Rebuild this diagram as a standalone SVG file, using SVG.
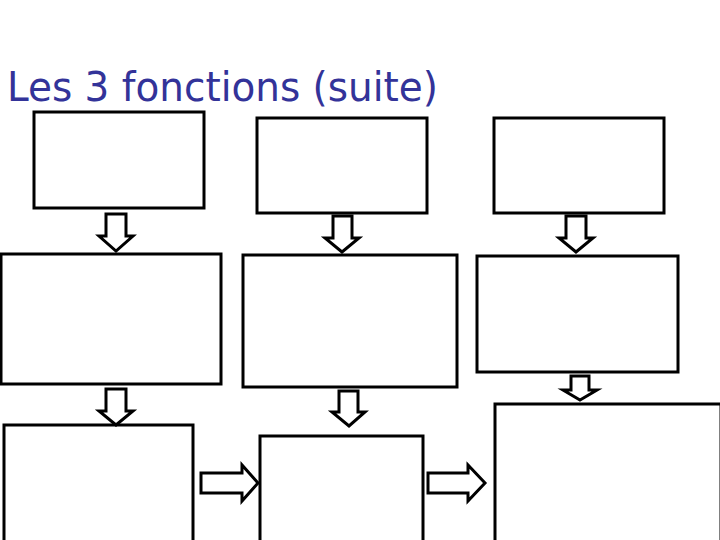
<svg xmlns="http://www.w3.org/2000/svg" width="720" height="540" viewBox="0 0 720 540">
<style>
.box{fill:#fff;stroke:#000;stroke-width:3}
.arr{fill:#fff;stroke:#000;stroke-width:3;stroke-linejoin:miter}
.title{font-family:"DejaVu Sans","Liberation Sans",sans-serif;font-size:40px;fill:#333399}
</style>
<rect width="720" height="540" fill="#fff"/>
<text class="title" x="7" y="101" textLength="431" lengthAdjust="spacingAndGlyphs">Les 3 fonctions (suite)</text>
<g id="box1"><rect class="box" x="34" y="112" width="170" height="96"/></g>
<g id="box2"><rect class="box" x="257" y="118" width="170" height="95"/></g>
<g id="box3"><rect class="box" x="494" y="118" width="170" height="95"/></g>
<g id="box4"><rect class="box" x="1" y="254" width="220" height="130"/></g>
<g id="box5"><rect class="box" x="243" y="255" width="214" height="132"/></g>
<g id="box6"><rect class="box" x="477" y="256" width="201" height="116"/></g>
<g id="box7"><rect class="box" x="4" y="425" width="189" height="118"/></g>
<g id="box8"><rect class="box" x="260" y="436" width="163" height="107"/></g>
<g id="box9"><rect class="box" x="495" y="404" width="226" height="139"/></g>
<g id="connectors">
<polygon class="arr" points="106,214 126,214 126,236 133,236 116,251 99,236 106,236"/>
<polygon class="arr" points="333,216 352,216 352,238 359,238 342,252 325,238 333,238"/>
<polygon class="arr" points="566,216 586,216 586,238 593,238 576,252 559,238 566,238"/>
<polygon class="arr" points="106,389 126,389 126,411 133,411 116,425 99,411 106,411"/>
<polygon class="arr" points="339,391 358,391 358,412 365,412 349,426 332,412 339,412"/>
<polygon class="arr" points="571,376 589,376 589,390 597,390 580,400 563,390 571,390"/>
<polygon class="arr" points="201,473 242,473 242,465 258,483 242,501 242,493 201,493"/>
<polygon class="arr" points="428,473 468,473 468,465 485,483 468,501 468,493 428,493"/>
</g>
</svg>
